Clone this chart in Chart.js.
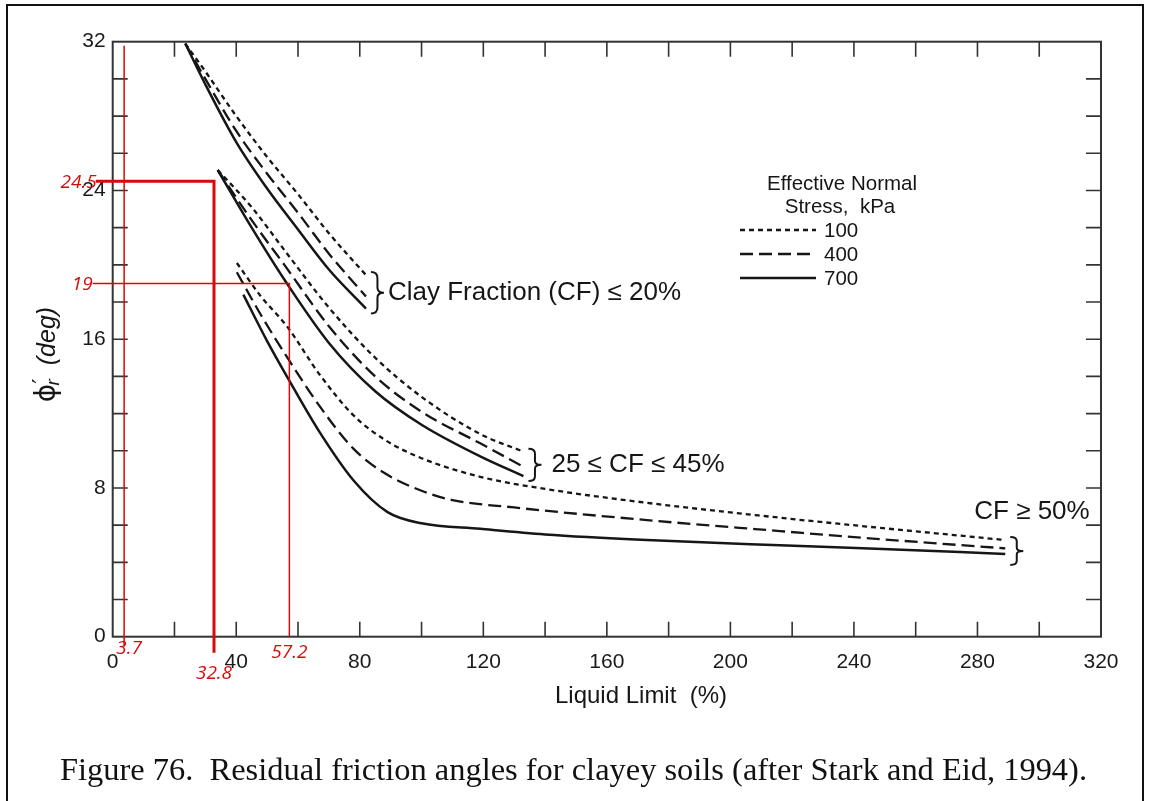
<!DOCTYPE html>
<html>
<head>
<meta charset="utf-8">
<script src="https://cdn.jsdelivr.net/npm/chart.js@4.4.1/dist/chart.umd.min.js"></script>
<style>
  html, body { margin: 0; padding: 0; background: #fff; }
  body { width: 1150px; height: 801px; position: relative; overflow: hidden; }
  #frame { position: absolute; left: 6px; top: 4px; width: 1138px; height: 840px; border: 2px solid #111; box-sizing: border-box; }
  #chart { position: absolute; left: 0; top: 0; }
</style>
</head>
<body>
<div id="frame"></div>
<canvas id="chart" width="1150" height="801"></canvas>
<script>
// Residual friction angle (deg) against liquid limit (%), [LL, phi] pairs
// Clay fraction <= 20 %
const cf20_100 = [[23.5, 31.9], [30, 30.4], [40, 28.0], [50, 25.8], [60, 23.8], [70, 21.7], [82, 19.45]];
const cf20_400 = [[23.5, 31.9], [30, 30.0], [40, 27.2], [50, 24.9], [60, 22.8], [70, 20.6], [82, 18.3]];
const cf20_700 = [[23.5, 31.9], [30, 29.7], [40, 26.6], [50, 24.1], [60, 21.9], [70, 19.75], [82, 17.65]];
// 25 <= clay fraction <= 45 %
const cf45_100 = [[34, 25.1], [45, 23.1], [56, 20.7], [70, 17.7], [85, 15.0], [100, 12.9], [119, 10.9], [133, 9.95]];
const cf45_400 = [[34, 25.1], [45, 22.4], [56, 19.9], [70, 16.7], [85, 14.0], [100, 12.1], [119, 10.4], [133, 9.14]];
const cf45_700 = [[34, 25.1], [45, 22.0], [56, 19.1], [70, 15.8], [85, 13.2], [100, 11.4], [119, 9.7], [133, 8.64]];
// clay fraction >= 50 %
const cf50_100 = [[40.2, 20.1], [48, 18.3], [56.4, 16.7], [67, 14.1], [78, 11.9], [88, 10.6], [100, 9.6], [119, 8.6], [140, 7.95], [173, 7.2], [216, 6.4], [245, 5.91], [289, 5.2]];
const cf50_400 = [[40.2, 19.6], [48, 17.3], [56.4, 15.05], [67, 12.4], [78, 10.1], [88, 8.8], [100, 7.85], [110, 7.35], [130, 6.95], [173, 6.27], [216, 5.68], [245, 5.29], [289, 4.75]];
const cf50_700 = [[42.3, 18.4], [50, 15.9], [56.4, 14.0], [67, 11.0], [78, 8.4], [89, 6.7], [100, 6.1], [119, 5.8], [140, 5.5], [173, 5.2], [216, 4.92], [245, 4.75], [289, 4.45]];

const stressLevels = ['100', '400', '700'];
const liquidLimitLabels = [0, 40, 80, 120, 160, 200, 240, 280, 320];
const frictionLabels = [0, 8, 16, 24, 32];

// worked example read-offs
const exampleLL = [3.7, 32.8, 57.2];
const examplePhi = [24.5, 19];

const INK = '#161616';
const RED = '#d60a0a';
const dashes = { '100': [5, 4], '400': [13, 6], '700': [] };

function series(points, stress) {
  return {
    label: stress + ' kPa',
    data: points.map(p => ({ x: p[0], y: p[1] })),
    showLine: true,
    pointRadius: 0,
    borderColor: INK,
    borderWidth: stress === '700' ? 2.5 : 2.3,
    borderDash: dashes[stress],
    cubicInterpolationMode: 'monotone',
    fill: false
  };
}

function brace(ctx, x, y0, y1, w) {
  const h = y1 - y0, ym = (y0 + y1) / 2, xm = x + w / 2;
  ctx.beginPath();
  ctx.moveTo(x, y0);
  ctx.quadraticCurveTo(xm, y0, xm, y0 + h * 0.15);
  ctx.lineTo(xm, ym - h * 0.12);
  ctx.quadraticCurveTo(xm, ym, x + w, ym);
  ctx.quadraticCurveTo(xm, ym, xm, ym + h * 0.12);
  ctx.lineTo(xm, y1 - h * 0.15);
  ctx.quadraticCurveTo(xm, y1, x, y1);
  ctx.stroke();
}

const decor = {
  id: 'decor',
  afterDatasetsDraw(chart) {
    const { ctx, chartArea: a, scales: { x, y } } = chart;
    const px = v => x.getPixelForValue(v);
    const py = v => y.getPixelForValue(v);
    ctx.save();

    // plot box with inward ticks on all four sides
    ctx.strokeStyle = '#333';
    ctx.lineWidth = 2;
    ctx.strokeRect(a.left, a.top, a.right - a.left, a.bottom - a.top);
    ctx.lineWidth = 1.6;
    ctx.beginPath();
    for (let v = 20; v < 320; v += 20) {
      ctx.moveTo(px(v), a.bottom); ctx.lineTo(px(v), a.bottom - 15);
      ctx.moveTo(px(v), a.top); ctx.lineTo(px(v), a.top + 15);
    }
    for (let v = 2; v < 32; v += 2) {
      ctx.moveTo(a.left, py(v)); ctx.lineTo(a.left + 15, py(v));
      ctx.moveTo(a.right, py(v)); ctx.lineTo(a.right - 15, py(v));
    }
    ctx.stroke();

    // red read-off lines
    ctx.strokeStyle = RED;
    ctx.lineWidth = 1.5;
    ctx.beginPath();
    ctx.moveTo(px(exampleLL[0]), py(32) + 4); ctx.lineTo(px(exampleLL[0]), a.bottom + 10);
    ctx.moveTo(a.left - 20, py(examplePhi[1])); ctx.lineTo(px(exampleLL[2]), py(examplePhi[1]));
    ctx.lineTo(px(exampleLL[2]), a.bottom);
    ctx.stroke();
    ctx.lineWidth = 3;
    ctx.beginPath();
    ctx.moveTo(a.left - 17, py(examplePhi[0])); ctx.lineTo(px(exampleLL[1]), py(examplePhi[0]));
    ctx.lineTo(px(exampleLL[1]), a.bottom + 16);
    ctx.stroke();

    ctx.fillStyle = RED;
    ctx.font = 'italic 19px "Open Sans"';
    ctx.textBaseline = 'middle';
    ctx.textAlign = 'right';
    ctx.fillText(String(examplePhi[0]), a.left - 16, py(examplePhi[0]) + 1);
    ctx.fillText(String(examplePhi[1]), a.left - 20, py(examplePhi[1]) + 1);
    ctx.textAlign = 'center';
    ctx.fillText(String(exampleLL[0]), px(exampleLL[0]) + 5, a.bottom + 12);
    ctx.fillText(String(exampleLL[1]), px(exampleLL[1]), a.bottom + 37);
    ctx.fillText(String(exampleLL[2]), px(exampleLL[2]), a.bottom + 16);

    // clay fraction braces and labels
    ctx.strokeStyle = INK;
    ctx.fillStyle = INK;
    ctx.lineWidth = 2;
    const groups = [
      [cf20_100, cf20_700, 'Clay Fraction (CF) \u2264 20%'],
      [cf45_100, cf45_700, '25 \u2264 CF \u2264 45%'],
      [cf50_100, cf50_700, 'CF \u2265 50%']
    ];
    ctx.font = '26px "Liberation Sans"';
    ctx.textAlign = 'left';
    groups.forEach(([top, bot, text], i) => {
      const end = top[top.length - 1], endLow = bot[bot.length - 1];
      const bx = px(end[0]) + 5;
      const y0 = py(end[1]) - 3, y1 = py(endLow[1]) + (i === 2 ? 11 : 5);
      brace(ctx, bx, y0, y1, 13);
      if (i === 2) ctx.fillText(text, bx - 36, y0 - 25);
      else ctx.fillText(text, bx + 17 + (i === 1 ? 6 : 0), (y0 + y1) / 2);
    });

    // stress legend
    ctx.font = '20.5px "Liberation Sans"';
    ctx.textAlign = 'center';
    ctx.fillText('Effective Normal', 842, 184);
    ctx.fillText('Stress,  kPa', 840, 207);
    ctx.textAlign = 'left';
    stressLevels.forEach((s, i) => {
      const ly = 230 + i * 24;
      ctx.setLineDash(dashes[s]);
      ctx.lineWidth = s === '700' ? 2.7 : 2.5;
      ctx.beginPath();
      ctx.moveTo(740, ly); ctx.lineTo(816, ly);
      ctx.stroke();
      ctx.setLineDash([]);
      ctx.fillText(s, 824, ly + 1);
    });

    // axis titles
    ctx.font = '24px "Liberation Sans"';
    ctx.textAlign = 'center';
    ctx.fillText('Liquid Limit  (%)', 641, 696);
    ctx.save();
    ctx.translate(48, 351);
    ctx.rotate(-Math.PI / 2);
    ctx.textAlign = 'left';
    const parts = [
      ['\u03D5', '28px "DejaVu Sans"', 0],
      ['\u2032', '23px "DejaVu Sans"', -5],
      ['r', 'italic 19px "Liberation Sans"', 6],
      ['  (deg)', 'italic 25px "Liberation Sans"', 0]
    ];
    let total = 0;
    parts.forEach(p => { ctx.font = p[1]; total += ctx.measureText(p[0]).width; });
    let cx = -total / 2;
    parts.forEach(p => {
      ctx.font = p[1];
      ctx.fillText(p[0], cx, p[2]);
      cx += ctx.measureText(p[0]).width - (p[0] === '\u2032' ? 7 : 0);
    });
    ctx.restore();

    // figure caption
    ctx.fillStyle = '#111';
    ctx.font = '31px "Liberation Serif"';
    ctx.textAlign = 'left';
    ctx.textBaseline = 'alphabetic';
    const caption = 'Figure 76.  Residual friction angles for clayey soils (after Stark and Eid, 1994).';
    const cw = ctx.measureText(caption).width;
    ctx.save();
    ctx.translate(60, 780);
    ctx.scale(1027 / cw, 1);
    ctx.fillText(caption, 0, 0);
    ctx.restore();

    ctx.restore();
  }
};

new Chart(document.getElementById('chart'), {
  type: 'scatter',
  data: {
    datasets: [
      series(cf20_100, '100'), series(cf20_400, '400'), series(cf20_700, '700'),
      series(cf45_100, '100'), series(cf45_400, '400'), series(cf45_700, '700'),
      series(cf50_100, '100'), series(cf50_400, '400'), series(cf50_700, '700')
    ]
  },
  options: {
    responsive: false,
    animation: false,
    devicePixelRatio: 1,
    layout: { padding: { top: 41.7, right: 49, left: 0, bottom: 0 } },
    plugins: { legend: { display: false }, tooltip: { enabled: false } },
    scales: {
      x: {
        type: 'linear', min: 0, max: 320,
        grid: { display: false, drawTicks: false },
        border: { display: false },
        ticks: {
          stepSize: 20, autoSkip: false, maxRotation: 0, padding: 13,
          color: '#1a1a1a', font: { family: 'Liberation Sans', size: 21 },
          callback: v => liquidLimitLabels.includes(v) ? String(v) : ''
        },
        afterFit: s => { s.height = 801 - 636.7; }
      },
      y: {
        type: 'linear', min: 0, max: 32,
        grid: { display: false, drawTicks: false },
        border: { display: false },
        ticks: {
          stepSize: 2, autoSkip: false, padding: 7,
          color: '#1a1a1a', font: { family: 'Liberation Sans', size: 21 },
          callback: v => frictionLabels.includes(v) ? String(v) : ''
        },
        afterFit: s => { s.width = 112.7; }
      }
    }
  },
  plugins: [decor]
});
</script>
</body>
</html>
